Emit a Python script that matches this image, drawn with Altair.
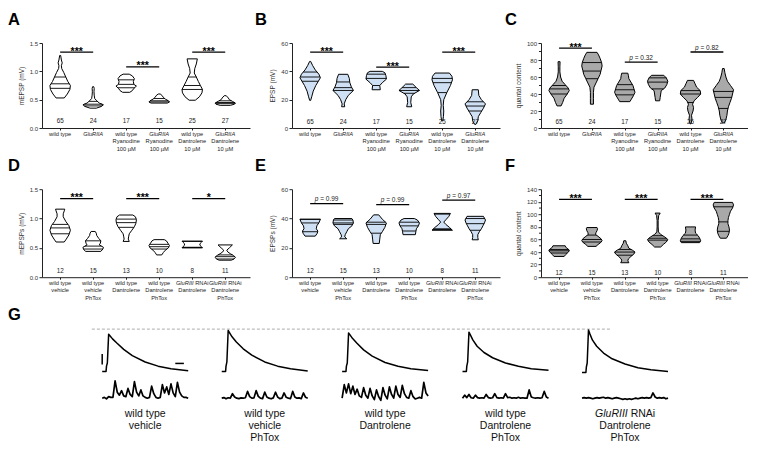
import altair as alt
import numpy as np
import pandas as pd

FONT = "Liberation Sans"
HW = 0.31          # half-width of the widest part of a violin (in group slots)
XDOM = [-0.55, 5.75]

# ---------------- group labels ----------------
top_line1 = ["wild type", "GluRIIA", "wild type", "GluRIIA", "wild type", "GluRIIA"]
top_line2 = ["", "", "Ryanodine", "Ryanodine", "Dantrolene", "Dantrolene"]
top_line3 = ["", "", "100 µM", "100 µM", "10 µM", "10 µM"]
bot_line1 = ["wild type", "wild type", "wild type", "wild type", "GluRIII RNAi", "GluRIII RNAi"]
bot_line2 = ["vehicle", "vehicle", "Dantrolene", "Dantrolene", "Dantrolene", "Dantrolene"]
bot_line3 = ["", "PhTox", "", "PhTox", "", "PhTox"]
n_top = [65, 24, 17, 15, 25, 27]
n_bot = [12, 15, 13, 10, 8, 11]

# ---------------- A: mEPSP (mV) ----------------
A_vals = [
    [0.53, 0.60, 0.68, 0.75, 0.82, 0.90, 0.98, 1.05, 1.10, 1.15, 1.20, 1.28],
    [0.35, 0.38, 0.41, 0.44, 0.48, 0.52, 0.58, 0.64, 0.70, 0.73],
    [0.63, 0.66, 0.70, 0.74, 0.77, 0.82, 0.87, 0.92, 0.95],
    [0.44, 0.46, 0.48, 0.51, 0.54, 0.57, 0.60],
    [0.49, 0.55, 0.62, 0.68, 0.75, 0.82, 0.90, 0.97, 1.05, 1.13, 1.22],
    [0.40, 0.42, 0.44, 0.47, 0.50, 0.53, 0.57],
]
A_wid = [
    [0.40, 0.70, 0.95, 1.00, 0.75, 0.55, 0.35, 0.15, 0.12, 0.20, 0.12, 0.05],
    [0.30, 0.80, 1.00, 0.60, 0.35, 0.15, 0.10, 0.08, 0.10, 0.05],
    [0.35, 0.60, 0.75, 1.00, 0.75, 0.70, 0.80, 0.60, 0.30],
    [0.80, 1.00, 0.90, 0.60, 0.40, 0.30, 0.10],
    [0.30, 0.70, 0.95, 1.00, 0.80, 0.60, 0.40, 0.20, 0.25, 0.40, 0.50],
    [0.50, 0.90, 1.00, 0.70, 0.40, 0.30, 0.10],
]
A_quart = [[0.70, 0.78, 0.90], [0.39, 0.42, 0.47], [0.71, 0.77, 0.85],
           [0.46, 0.48, 0.52], [0.68, 0.75, 0.90], [0.43, 0.45, 0.48]]
A_sig = [(0, 1, 1.34, "***"), (2, 3, 1.08, "***"), (4, 5, 1.34, "***")]

# ---------------- B: EPSP (mV) ----------------
B_vals = [
    [19.5, 22, 26, 30, 33, 35.5, 38, 41, 44, 47],
    [15, 17, 20, 23, 26.5, 29, 32, 35, 37.9],
    [27, 30, 32, 34.5, 37, 39, 40],
    [15, 18, 22, 24, 26.5, 28.5, 31],
    [5, 8, 12, 16, 20, 25, 30, 34, 36.5, 38.8],
    [2.5, 5, 8, 11, 14, 17, 20, 23, 27],
]
B_wid = [
    [0.05, 0.15, 0.30, 0.55, 0.80, 1.00, 0.85, 0.50, 0.25, 0.05],
    [0.15, 0.10, 0.25, 0.50, 1.00, 0.80, 0.65, 0.60, 0.45],
    [0.40, 0.35, 0.60, 1.00, 0.95, 0.85, 0.60],
    [0.25, 0.15, 0.20, 0.40, 1.00, 0.70, 0.35],
    [0.05, 0.12, 0.15, 0.10, 0.15, 0.45, 0.80, 1.00, 0.95, 0.70],
    [0.05, 0.25, 0.30, 0.55, 0.80, 1.00, 0.60, 0.35, 0.30],
]
B_quart = [[33, 36, 39.5], [26.5, 28.5, 32.5], [30, 35, 38],
           [24.5, 26.5, 28.5], [25, 32, 35], [12, 15.5, 18.5]]
B_sig = [(0, 1, 53.6, "***"), (2, 3, 43, "***"), (4, 5, 53.6, "***")]

# ---------------- C: quantal content ----------------
C_vals = [
    [26, 30, 35, 40, 44, 47, 51, 55, 60, 66, 72, 78],
    [28, 35, 42, 48, 53, 58, 63, 68, 73, 77, 82, 86, 89],
    [31, 34, 38, 42, 46, 50, 54, 58, 62, 64.5],
    [32, 36, 40, 44, 47, 51, 55, 59, 62],
    [5, 10, 15, 20, 24, 28, 32, 36, 40, 44, 48, 52, 56],
    [6, 10, 15, 20, 25, 30, 35, 40, 45, 50, 55, 60, 65, 70],
]
C_wid = [
    [0.20, 0.35, 0.50, 0.80, 1.00, 0.90, 0.60, 0.30, 0.15, 0.08, 0.08, 0.10],
    [0.15, 0.15, 0.15, 0.20, 0.40, 0.60, 0.80, 0.90, 1.00, 0.95, 0.80, 0.65, 0.50],
    [0.50, 0.65, 0.85, 1.00, 0.90, 0.80, 0.60, 0.40, 0.35, 0.30],
    [0.20, 0.25, 0.30, 0.35, 0.70, 0.90, 1.00, 0.85, 0.60],
    [0.05, 0.15, 0.10, 0.25, 0.30, 0.20, 0.35, 0.70, 1.00, 0.95, 0.60, 0.45, 0.30],
    [0.10, 0.25, 0.35, 0.40, 0.50, 0.65, 0.80, 0.90, 1.00, 0.70, 0.40, 0.25, 0.15, 0.08],
]
C_quart = [[40, 46, 50], [58, 67, 77], [39, 45, 51], [46, 54, 59], [30, 40, 44], [23, 36, 43]]
C_sig = [(0, 1, 94, "***"), (2, 3, 77.6, "p = 0.32"), (4, 5, 89.4, "p = 0.82")]

# ---------------- D: mEPSPs (mV) ----------------
D_vals = [
    [0.60, 0.65, 0.72, 0.80, 0.88, 0.95, 1.03, 1.08, 1.13, 1.16],
    [0.44, 0.48, 0.51, 0.55, 0.58, 0.62, 0.66, 0.71, 0.75, 0.78],
    [0.61, 0.65, 0.70, 0.74, 0.80, 0.86, 0.92, 0.98, 1.03, 1.06],
    [0.38, 0.42, 0.46, 0.50, 0.54, 0.58, 0.62, 0.64],
    [0.50, 0.52, 0.545, 0.57, 0.595, 0.615],
    [0.29, 0.31, 0.34, 0.37, 0.40, 0.43, 0.46, 0.50, 0.55],
]
D_wid = [
    [0.40, 0.60, 0.85, 1.00, 0.85, 0.55, 0.30, 0.30, 0.40, 0.45],
    [0.75, 0.95, 1.00, 0.60, 0.70, 0.75, 0.55, 0.35, 0.30, 0.20],
    [0.30, 0.20, 0.25, 0.30, 0.55, 0.80, 0.95, 1.00, 0.90, 0.65],
    [0.25, 0.40, 0.60, 0.90, 1.00, 0.85, 0.70, 0.50],
    [1.00, 0.90, 0.75, 0.75, 0.90, 1.00],
    [0.60, 0.85, 1.00, 0.80, 0.50, 0.25, 0.15, 0.40, 0.70],
]
D_quart = [[0.74, 0.84, 0.90], [0.48, 0.53, 0.62], [0.85, 0.93, 0.99],
           [0.48, 0.52, 0.56], [0.505, 0.51, 0.61], [0.31, 0.35, 0.38]]
D_sig = [(0, 1, 1.34, "***"), (2, 3, 1.34, "***"), (4, 5, 1.34, "*")]

# ---------------- E: EPSPs (mV) ----------------
E_vals = [
    [28, 30, 31.5, 33, 35, 37, 39.5],
    [26.2, 27.5, 29, 31, 33, 35, 37, 39, 40],
    [23, 26, 29, 31, 34, 37, 39.5, 42.5],
    [29, 31, 33, 35, 37, 39, 40],
    [32, 34, 36, 37.6, 39.5, 41.5, 43.5],
    [25.5, 27, 29, 31, 33, 35, 37, 39, 41.5],
]
E_wid = [
    [0.50, 0.70, 0.75, 0.60, 0.65, 0.85, 1.00],
    [0.35, 0.15, 0.20, 0.35, 0.50, 0.85, 1.00, 0.95, 0.85],
    [0.30, 0.35, 0.40, 0.60, 0.85, 1.00, 0.60, 0.25],
    [0.60, 0.65, 0.70, 0.90, 1.00, 0.80, 0.50],
    [1.00, 0.70, 0.35, 0.15, 0.40, 0.65, 0.80],
    [0.30, 0.25, 0.25, 0.40, 0.60, 0.75, 0.90, 1.00, 0.80],
]
E_quart = [[31, 37, 39.5], [36, 37, 39], [30, 36, 37.5], [31.5, 35, 37.5],
           [32.5, 33, 43], [32, 36.5, 40]]
E_sig = [(0, 1, 50.2, "p = 0.99"), (2, 3, 49.5, "p = 0.99"), (4, 5, 52.5, "p = 0.97")]

# ---------------- F: quantal content ----------------
F_vals = [
    [33, 36, 39, 42, 44, 47, 50],
    [49, 52, 55, 58, 61, 65, 68, 71, 74, 77, 79],
    [23, 26, 29, 33, 37, 40, 43, 46, 50, 54, 58],
    [48, 52, 56, 60, 64, 68, 72, 80, 90, 98, 102],
    [55, 58, 62, 66, 70, 75, 80],
    [62, 66, 70, 75, 80, 85, 90, 95, 100, 105, 110, 115, 119],
]
F_wid = [
    [0.50, 0.65, 0.85, 1.00, 0.95, 0.70, 0.60],
    [0.40, 0.60, 0.85, 1.00, 0.90, 0.60, 0.35, 0.40, 0.50, 0.55, 0.50],
    [0.40, 0.30, 0.35, 0.60, 0.90, 1.00, 0.75, 0.40, 0.30, 0.15, 0.10],
    [0.30, 0.55, 0.85, 1.00, 0.70, 0.30, 0.08, 0.05, 0.05, 0.10, 0.25],
    [0.90, 1.00, 0.90, 0.75, 0.50, 0.45, 0.50],
    [0.30, 0.45, 0.55, 0.60, 0.55, 0.45, 0.45, 0.50, 0.60, 0.70, 0.90, 1.00, 0.90],
]
F_quart = [[38.5, 42, 44], [56, 60, 67], [35, 40, 44], [59, 62, 66], [57, 61, 67], [73, 88, 112]]
F_sig = [(0, 1, 123.7, "***"), (2, 3, 123.7, "***"), (4, 5, 123.7, "***")]

# ---------------- G: example traces ----------------
G_line1 = ["wild type", "wild type", "wild type", "wild type", "GluRIII RNAi"]
G_line2 = ["vehicle", "vehicle", "Dantrolene", "Dantrolene", "Dantrolene"]
G_line3 = ["", "PhTox", "", "PhTox", "PhTox"]
G_start = [70, 209, 349, 489, 628]            # ms, start of each trace slot
epsp_t = [0, 4.5, 5, 6, 7.5, 9, 12, 17, 25, 35, 50, 65, 80, 100]
epsp_v = [
    [0, 0, 5, 8, 35.5, 34, 31, 27, 21, 15, 9, 5, 2.5, 0.7],
    [0, 0, 5, 9, 39, 37, 33, 28, 21.5, 15.5, 9, 5, 2.5, 0.5],
    [0, 0, 5, 8, 36.5, 35, 31.5, 27, 20.5, 14.5, 8.5, 5, 2.5, 0.8],
    [0, 0, 5, 9, 37.4, 35, 30, 24, 18, 13, 8, 5, 2.5, 1],
    [-1, -1, 4, 8, 39.5, 36, 30, 24, 17.5, 12, 7, 3.5, 1.5, 0],
]
mini_t = [0, 2.5, 5, 7.5, 10, 12.5, 15, 17.5, 20, 22.5, 25, 27.5, 30, 32.5, 35, 37.5,
          40, 42.5, 45, 47.5, 50, 52.5, 55, 57.5, 60, 62.5, 65, 67.5, 70, 72.5, 75,
          77.5, 80, 82.5, 85, 87.5, 90, 92.5, 95, 97.5, 100]
mini_v = [
    [0.0, 0.05, -0.05, 0.1, 0.05, 0.05, 1.15, 0.4, 0.2, 0.5, 0.15, 0.1, 0.65, 0.25, 0.1,
     1.1, 0.4, 0.15, 0.55, 0.15, 0.05, 0.0, 0.05, 0.8, 0.3, 0.05, 0.0, 0.05, 0.9, 0.35, 0.75,
     0.25, 0.95, 0.35, 0.1, 1.05, 0.4, 0.15, 0.05, 0.05, 0.0],
    [0.0, 0.04, -0.04, 0.03, 0.0, 0.3, 0.08, 0.0, -0.03, 0.02, 0.0, 0.03, 0.45, 0.1, 0.0,
     0.02, 0.5, 0.12, 0.0, -0.03, 0.4, 0.08, 0.0, -0.04, 0.02, 0.4, 0.08, -0.03, 0.0, 0.35,
     0.06, 0.0, -0.03, 0.45, 0.08, 0.0, 0.02, -0.03, 0.35, 0.06, 0.0],
    [0.0, 0.9, 0.35, 0.95, 0.3, 0.8, 0.25, 0.6, 0.15, 0.05, 0.7, 0.2, 0.0, 0.65, 0.15, -0.1,
     0.55, 0.1, -0.15, 0.7, 0.2, -0.05, 0.75, 0.25, 0.0, 0.8, 0.25, 0.05, 0.85, 0.3, 0.05,
     0.0, 0.5, 0.1, -0.05, 0.0, 0.05, 0.0, 1.05, 0.35, 0.15],
    [0.0, 0.2, 0.04, 0.25, 0.03, 0.0, 0.2, 0.04, 0.0, 0.03, 0.0, 0.25, 0.04, 0.0, 0.03, 0.3,
     0.04, 0.0, 0.03, 0.0, 0.3, 0.04, 0.06, 0.0, 0.03, 0.0, 0.06, 0.0, 0.03, 0.0, 0.0, 0.55,
     0.08, 0.03, 0.0, 0.03, 0.0, 0.03, 0.45, 0.08, 0.0],
    [0.0, 0.04, 0.0, 0.04, 0.0, -0.04, 0.0, 0.04, 0.0, 0.04, 0.06, 0.0, 0.04, 0.0, -0.04,
     0.0, 0.04, 0.0, -0.04, -0.08, -0.04, -0.08, -0.04, -0.08, -0.04, 0.0, -0.04, 0.0, 0.04,
     0.0, 0.04, 0.0, 0.04, 0.35, 0.08, 0.0, 0.04, 0.0, 0.04, -0.04, 0.0],
]
peak_ref_mv = 40.3
scalebar_mv = [6.5, 16.5]
scalebar_ms = [155, 165]


# ====================================================================
def text_layer(df, xs, xaxis, y_px, fs, style="normal", align="center", dx=0,
               color="#222", weight="normal", baseline="middle"):
    return alt.Chart(df).mark_text(
        font=FONT, fontSize=fs, fontStyle=style, align=align, dx=dx,
        color=color, fontWeight=weight, baseline=baseline
    ).encode(x=alt.X("x:Q", scale=xs, axis=xaxis), y=alt.value(y_px), text="txt:N")


def label_layers(lines, xs, xaxis, y0, step, fs, xpos, split_dx, color="#222"):
    layers = []
    for li, line in enumerate(lines):
        y = y0 + li * step
        normal, italic, mixed = [], [], []
        for g, t in enumerate(line):
            if not t:
                continue
            if t.startswith("GluRIII "):
                mixed.append((xpos[g], t))
            elif t.startswith("GluR"):
                italic.append((xpos[g], t))
            else:
                normal.append((xpos[g], t))
        if normal:
            layers.append(text_layer(pd.DataFrame(normal, columns=["x", "txt"]), xs, xaxis, y, fs, color=color))
        if italic:
            layers.append(text_layer(pd.DataFrame(italic, columns=["x", "txt"]), xs, xaxis, y, fs,
                                     style="italic", color=color))
        if mixed:
            a = pd.DataFrame([(x, t.split(" ", 1)[0]) for x, t in mixed], columns=["x", "txt"])
            b = pd.DataFrame([(x, t.split(" ", 1)[1]) for x, t in mixed], columns=["x", "txt"])
            layers.append(text_layer(a, xs, xaxis, y, fs, style="italic", align="right",
                                     dx=split_dx[0], color=color))
            layers.append(text_layer(b, xs, xaxis, y, fs, align="left", dx=split_dx[1], color=color))
    return layers


def letter_layer(letter, ldx, ldy, fs=16.5):
    return alt.Chart(pd.DataFrame({"txt": [letter]})).mark_text(
        font=FONT, fontSize=fs, fontWeight="bold", align="left", baseline="alphabetic", color="#000"
    ).encode(x=alt.value(ldx), y=alt.value(ldy), text="txt:N")


def violin_tables(vals, wids, quarts):
    vrows, qrows = [], []
    for g in range(len(vals)):
        for v, w in zip(vals[g], wids[g]):
            vrows.append(dict(g=g, v=v, xl=g - w * HW, xr=g + w * HW))
        for q in quarts[g]:
            w = float(np.interp(q, vals[g], wids[g]))
            qrows.append(dict(g=g, v=q, xl=g - w * HW, xr=g + w * HW))
    return pd.DataFrame(vrows), pd.DataFrame(qrows)


def panel(letter, ldx, ldy, vals, wids, quarts, ns, ny, ymax, ystep, yfmt, ytitle,
          fill, sigs, h, lines, w=208, minor=None):
    vdf, qdf = violin_tables(vals, wids, quarts)
    xs = alt.Scale(domain=XDOM, nice=False, zero=False)
    ys = alt.Scale(domain=[0, ymax], nice=False, zero=False)
    yvals = [round(k * ystep, 3) for k in range(int(round(ymax / ystep)) + 1)]
    yaxis = alt.Axis(values=yvals, format=yfmt, title=ytitle, grid=False)
    xaxis = alt.Axis(values=[0, 1, 2, 3, 4, 5], labels=False, title=None, grid=False, tickSize=2)

    def X(f):
        return alt.X(f, scale=xs, axis=xaxis)

    def Y(f):
        return alt.Y(f, scale=ys, axis=yaxis)

    violins = alt.Chart(vdf).mark_area(
        orient="horizontal", fill=fill, stroke="black", strokeWidth=1, fillOpacity=1
    ).encode(y=Y("v:Q"), x=X("xl:Q"), x2="xr:Q", detail="g:N")
    quart = alt.Chart(qdf).mark_rule(color="black", strokeWidth=0.9).encode(
        y=Y("v:Q"), x=X("xl:Q"), x2="xr:Q")
    ndf = pd.DataFrame({"x": list(range(6)), "txt": [str(n) for n in ns], "y": [ny] * 6})
    ntext = alt.Chart(ndf).mark_text(font=FONT, fontSize=6.3, color="#222").encode(
        x=X("x:Q"), y=Y("y:Q"), text="txt:N")
    sdf = pd.DataFrame(sigs, columns=["i", "j", "v", "txt"])
    sdf["x"] = (sdf["i"] + sdf["j"]) / 2
    bars = alt.Chart(sdf).mark_rule(color="black", strokeWidth=1.3).encode(
        x=X("i:Q"), x2="j:Q", y=Y("v:Q"))
    layers = [violins, quart, ntext, bars]
    if minor:
        mdf = pd.DataFrame({"v": minor})
        layers.append(alt.Chart(mdf).mark_rule(color="#222", strokeWidth=1).encode(
            y=Y("v:Q"), x=alt.value(-2), x2=alt.value(0)))
    stars = sdf[sdf["txt"].str.startswith("*")]
    if len(stars):
        layers.append(alt.Chart(stars).mark_text(
            font=FONT, fontSize=10.5, fontWeight="bold", baseline="alphabetic", dy=2.5, color="black"
        ).encode(x=X("x:Q"), y=Y("v:Q"), text="txt:N"))
    pv = sdf[sdf["txt"].str.startswith("p")].copy()
    if len(pv):
        pv["rest"] = pv["txt"].str.slice(2)
        pv["p"] = "p"
        layers.append(alt.Chart(pv).mark_text(
            font=FONT, fontSize=6.5, fontStyle="italic", align="left", baseline="alphabetic",
            dx=-12, dy=-2.5, color="#222"
        ).encode(x=X("x:Q"), y=Y("v:Q"), text="p:N"))
        layers.append(alt.Chart(pv).mark_text(
            font=FONT, fontSize=6.5, align="left", baseline="alphabetic", dx=-6.5, dy=-2.5, color="#222"
        ).encode(x=X("x:Q"), y=Y("v:Q"), text="rest:N"))
    layers += label_layers(lines, xs, xaxis, h + 5.5, 7.7, 5.7, list(range(6)), (1.4, 3.0))
    layers.append(letter_layer(letter, ldx, ldy))
    return alt.layer(*layers).properties(width=w, height=h)


LIGHTBLUE = "#cfe0f4"
GREY = "#a9a9a9"
top_lines = [top_line1, top_line2, top_line3]
bot_lines = [bot_line1, bot_line2, bot_line3]
minor_C = [10, 30, 50, 70, 90]
minor_F = [10, 30, 50, 70, 90, 110, 130]

A = panel("A", -34, -18.4, A_vals, A_wid, A_quart, n_top, 0.12, 1.5, 0.5, ".1f", "mEPSP  (mV)",
          "white", A_sig, 85, top_lines)
B = panel("B", -37, -18.4, B_vals, B_wid, B_quart, n_top, 4, 60, 20, "d", "EPSP  (mV)",
          LIGHTBLUE, B_sig, 85, top_lines)
C = panel("C", -36, -18.4, C_vals, C_wid, C_quart, n_top, 7, 100, 20, "d", "quantal content",
          GREY, C_sig, 85, top_lines, w=207, minor=minor_C)
D = panel("D", -34, -18.3, D_vals, D_wid, D_quart, n_bot, 0.1, 1.5, 0.5, ".1f", "mEPSPs  (mV)",
          "white", D_sig, 88, bot_lines)
E = panel("E", -37, -18.3, E_vals, E_wid, E_quart, n_bot, 4, 60, 20, "d", "EPSPs  (mV)",
          LIGHTBLUE, E_sig, 88, bot_lines)
F = panel("F", -36, -18.3, F_vals, F_wid, F_quart, n_bot, 7, 140, 20, "d", "quantal content",
          GREY, F_sig, 88, bot_lines, w=207, minor=minor_F)

# ---------------- panel G ----------------
GW, GH = 706, 110
gxs = alt.Scale(domain=[0, 821], nice=False, zero=False)
eys = alt.Scale(domain=[-72.4, 32.4], nice=False, zero=False)
mys = alt.Scale(domain=[-3.28, 4.05], nice=False, zero=False)

erows = []
for k in range(5):
    for t, v in zip(epsp_t, epsp_v[k]):
        erows.append(dict(tr=k, x=G_start[k] + t, v=v))
edf = pd.DataFrame(erows)
mrows = []
for k in range(5):
    for t, v in zip(mini_t, mini_v[k]):
        mrows.append(dict(tr=k, x=G_start[k] + t, v=v))
mdf = pd.DataFrame(mrows)

epsp = alt.Chart(edf).mark_line(color="black", strokeWidth=1.5, strokeJoin="round").encode(
    x=alt.X("x:Q", scale=gxs, axis=None), y=alt.Y("v:Q", scale=eys, axis=None), detail="tr:N")
minis = alt.Chart(mdf).mark_line(color="black", strokeWidth=1.7, strokeJoin="round").encode(
    x=alt.X("x:Q", scale=gxs, axis=None), y=alt.Y("v:Q", scale=mys, axis=None), detail="tr:N")
dash = alt.Chart(pd.DataFrame({"x": [G_start[0] - 12], "x2": [G_start[3] + 172], "v": [peak_ref_mv]})).mark_rule(
    color="#999", strokeWidth=0.8, strokeDash=[3, 2]).encode(
    x=alt.X("x:Q", scale=gxs, axis=None), x2="x2:Q", y=alt.Y("v:Q", scale=eys, axis=None))
vbar = alt.Chart(pd.DataFrame({"x": [G_start[0]], "v": [scalebar_mv[0]], "v2": [scalebar_mv[1]]})).mark_rule(
    color="black", strokeWidth=1.5).encode(
    x=alt.X("x:Q", scale=gxs, axis=None), y=alt.Y("v:Q", scale=eys, axis=None), y2="v2:Q")
hbar = alt.Chart(pd.DataFrame({"x": [scalebar_ms[0]], "x2": [scalebar_ms[1]], "v": [7.6]})).mark_rule(
    color="black", strokeWidth=1.5).encode(
    x=alt.X("x:Q", scale=gxs, axis=None), x2="x2:Q", y=alt.Y("v:Q", scale=eys, axis=None))

g_centers = [s + 50 for s in G_start]
g_labels = label_layers([G_line1, G_line2, G_line3], gxs, None, 77, 11.8, 10.5, g_centers, (2.7, 5.6),
                        color="#111")
G = alt.layer(dash, epsp, vbar, hbar, minis, *g_labels, letter_layer("G", -34, -17.5)).resolve_scale(
    y="independent").properties(width=GW, height=GH)

row1 = alt.hconcat(A, B, C, spacing=5)
row2 = alt.hconcat(D, E, F, spacing=5)
chart = alt.vconcat(row1, row2, G, spacing=5.2).properties(
    padding={"left": 0, "top": 3, "right": 0, "bottom": 0}
).configure_view(strokeWidth=0).configure_axis(
    labelFont=FONT, labelFontSize=6, labelColor="#333",
    titleFont=FONT, titleFontSize=6.5, titleFontWeight="normal", titleColor="#333",
    domainColor="#222", tickColor="#222", domainWidth=1, tickWidth=1, tickSize=3,
    labelPadding=1.5, titlePadding=5,
)

chart.save("out.html", embed_options={"renderer": "svg", "actions": False})
